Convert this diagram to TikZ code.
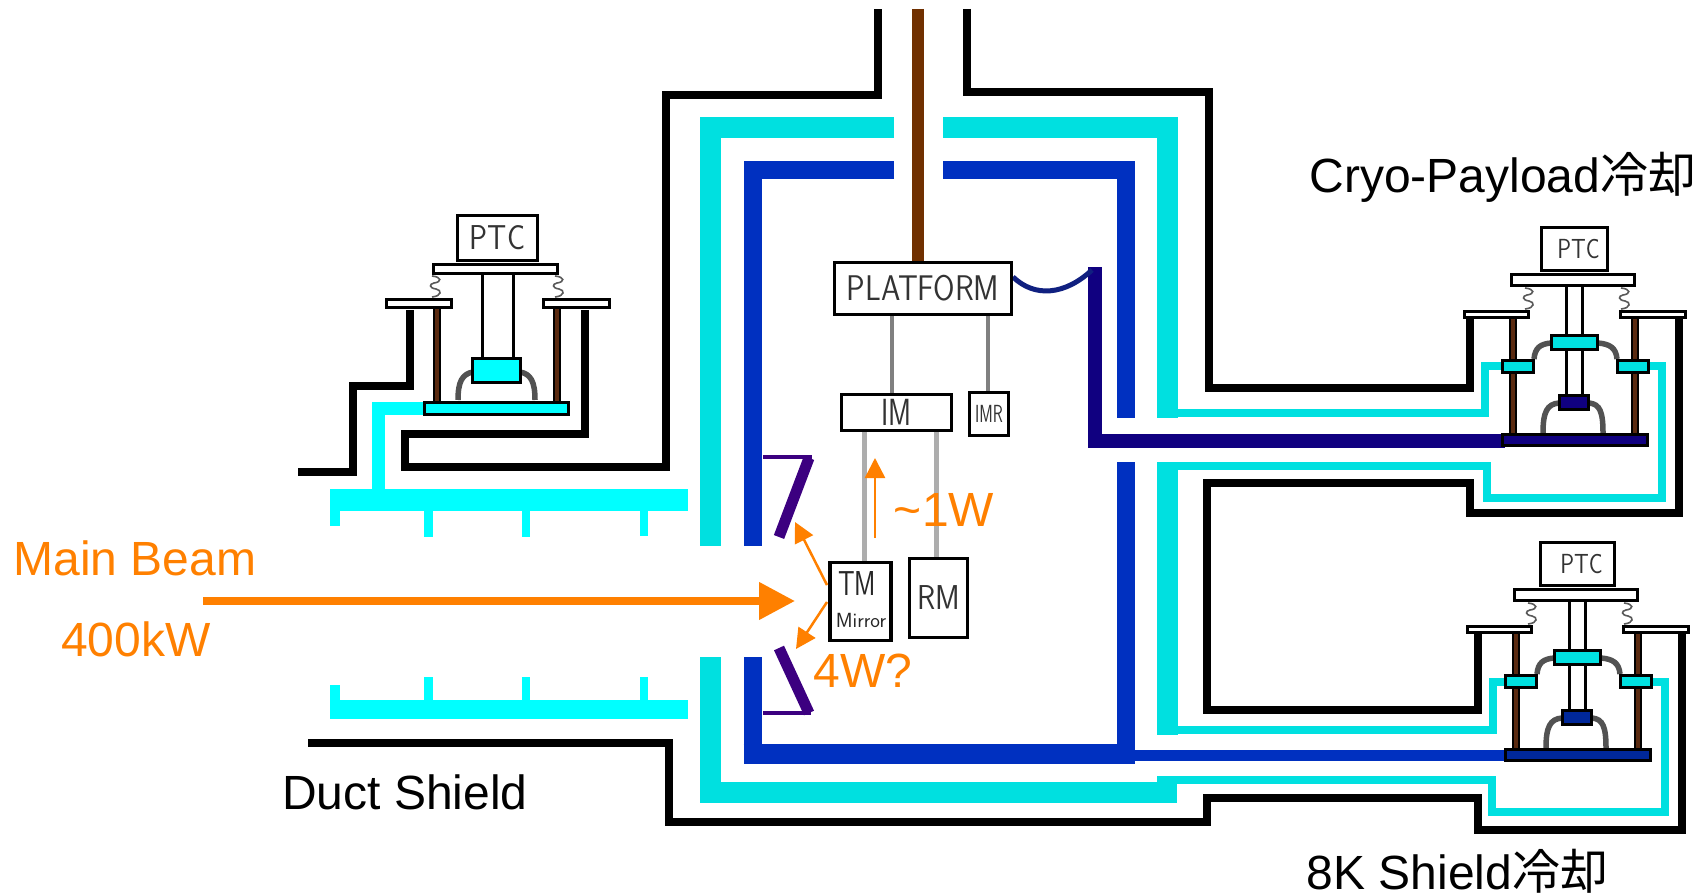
\documentclass[tikz,border=0pt]{standalone}
\usepackage{fontspec}
\setmainfont{Liberation Sans}
\newfontfamily\cjk{Noto Sans CJK JP}
\usetikzlibrary{arrows.meta, positioning}
\definecolor{beamcyan}{HTML}{00FFFF}
\definecolor{shieldteal}{HTML}{00E0E0}
\definecolor{shieldblue}{HTML}{0030C0}
\definecolor{barblue}{HTML}{00289A}
\definecolor{darkblue}{HTML}{100080}
\definecolor{curveblue}{HTML}{102080}
\definecolor{baffle}{HTML}{3C0080}
\definecolor{rodbrown}{HTML}{5A2A10}
\definecolor{wirebrown}{HTML}{703000}
\definecolor{beamorange}{HTML}{FF8000}
\newcommand{\coilat}[2]{\draw[coil, shift={(#1,#2)}] (-3,0) .. controls (7,1) and (7,6) .. (-1,7) .. controls (-6,8) and (-6,12) .. (1,13) .. controls (7,14) and (7,20) .. (-3,21);}
\newcommand{\tall}[2]{\scalebox{1}[#1]{#2}}
\begin{document}
\begin{tikzpicture}[
    x=1pt, y=-1pt,
    wall/.style={draw=black, line width=8pt},
    thickteal/.style={draw=shieldteal, line width=21pt},
    thinteal/.style={draw=shieldteal, line width=7.5pt},
    thickblue/.style={draw=shieldblue, line width=18pt},
    duct/.style={fill=beamcyan},
    block/.style={draw=black, line width=3pt},
    plate/.style={draw=black, line width=3.5pt, fill=white},
    rod/.style={draw=black, line width=2pt, double=rodbrown, double distance=4pt},
    flex/.style={draw=black!68, line width=5.5pt},
    coil/.style={draw=black!65, line width=1.6pt},
    box/.style={draw=black, line width=3.5pt, fill=white, inner sep=0pt, font=\sffamily\fontsize{30}{32}\selectfont, text=black!80},
    tag/.style={inner sep=0pt, font=\sffamily, text=black!85},
    hanger/.style={draw=black!50, line width=4.5pt},
    wire/.style={draw=black!32, line width=5pt},
    txt/.style={inner sep=0pt, anchor=base, font=\fontsize{48}{50}\selectfont},
    otxt/.style={txt, text=beamorange},
    ray/.style={-{Triangle[length=20pt,width=20pt]}, draw=beamorange, fill=beamorange, line width=2.5pt},
]
\useasboundingbox (0,0) rectangle (1700,896);

\draw[wall] (298,472) -- (353,472) -- (353,386) -- (410,386) -- (410,310);
\draw[wall] (585,310) -- (585,434) -- (405,434) -- (405,467) -- (666,467) -- (666,95) -- (878,95) -- (878,9);
\draw[wall] (967,9) -- (967,92) -- (1209,92) -- (1209,388) -- (1470,388) -- (1470,318);
\draw[wall] (1679,318) -- (1679,513) -- (1470,513) -- (1470,483) -- (1207,483) -- (1207,710) -- (1478,710) -- (1478,633);
\draw[wall] (1682,633) -- (1682,830) -- (1478,830) -- (1478,798) -- (1207,798) -- (1207,822) -- (669,822) -- (669,743) -- (308,743);

\draw[thickteal] (894,128) -- (710.5,128) -- (710.5,546);
\draw[thickteal] (710.5,657) -- (710.5,792.5) -- (1177,792.5);
\draw[thickteal] (943,128) -- (1167,128) -- (1167,418);
\draw[thickteal] (1167,462) -- (1167,735);
\draw[thinteal] (1167,413) -- (1485,413) -- (1485,366) -- (1505,366);
\draw[thinteal] (1167,466) -- (1487,466) -- (1487,498) -- (1662,498) -- (1662,366) -- (1645,366);
\draw[thinteal] (1167,730) -- (1493,730) -- (1493,682) -- (1510,682);
\draw[thinteal] (1157,780) -- (1492,780) -- (1492,812) -- (1665,812) -- (1665,682) -- (1650,682);

\draw[thickblue] (894,170.5) -- (752.5,170.5) -- (752.5,546);
\draw[thickblue] (752.5,657) -- (752.5,764);
\draw[thickblue, line width=20pt] (743.5,754) -- (1135,754);
\draw[thickblue] (943,170.5) -- (1126,170.5) -- (1126,418);
\draw[thickblue] (1126,462) -- (1126,764);
\draw[draw=shieldblue, line width=11pt] (1135,755.5) -- (1510,755.5);
\draw[draw=darkblue, line width=14pt] (1094.5,267) -- (1094.5,441) -- (1505,441);
\draw[draw=curveblue, line width=5pt] (1013,277) .. controls (1035,298) and (1065,295) .. (1092,270);

\fill[duct] (330,489) rectangle (688,511);
\fill[duct] (330,511) rectangle (340,526);
\fill[duct] (424,511) rectangle (433,537);
\fill[duct] (522,511) rectangle (530,537);
\fill[duct] (640,511) rectangle (648,536);
\fill[duct] (330,700) rectangle (688,719);
\fill[duct] (330,685) rectangle (340,700);
\fill[duct] (424,677) rectangle (433,700);
\fill[duct] (522,677) rectangle (530,700);
\fill[duct] (640,677) rectangle (648,700);
\draw[draw=beamcyan, line width=13pt] (378,490) -- (378,408.5) -- (425,408.5);

\draw[rod] (437,309) -- (437,401);
\draw[rod] (557,309) -- (557,401);
\draw[flex] (458,400) .. controls (458,382) and (462,374) .. (473,372);
\draw[flex] (535,400) .. controls (535,382) and (531,374) .. (520,372);
\draw[draw=black, line width=3pt] (482,275) -- (482,358);
\draw[draw=black, line width=3pt] (513,275) -- (513,358);
\draw[block, fill=beamcyan] (472.5,358.5) rectangle (520.5,382.5);
\draw[block, fill=beamcyan] (424.5,402.5) rectangle (568.5,414.5);
\coilat{435}{276}
\coilat{558}{276}
\draw[plate] (386.5,299.5) rectangle (451.5,307.5);
\draw[plate] (543.5,299.5) rectangle (609.5,307.5);
\draw[plate] (433.5,264.5) rectangle (557.5,273.5);
\node[box, minimum width=80pt, minimum height=45pt] (ptcleft) at (497.5,238) {\tall{1.15}{PTC}};

\foreach \ox/\oy/\unit/\barcol/\boxw in {0/0/top/darkblue/66, 3/315/low/barblue/74} {
\begin{scope}[shift={(\ox,\oy)}]
\draw[rod] (1513,319) -- (1513,433);
\draw[rod] (1635,319) -- (1635,433);
\draw[flex] (1543,433) .. controls (1543,412) and (1547,404) .. (1559,403);
\draw[flex] (1603,433) .. controls (1603,412) and (1600,404) .. (1589,403);
\draw[flex] (1534,359) .. controls (1535,348) and (1540,344) .. (1551,343);
\draw[flex] (1617,359) .. controls (1616,348) and (1610,344) .. (1598,343);
\draw[draw=black, line width=3pt] (1566,287) -- (1566,394);
\draw[draw=black, line width=3pt] (1582,287) -- (1582,394);
\draw[block, fill=shieldteal] (1551.5,335.5) rectangle (1597.5,349.5);
\draw[block, fill=shieldteal] (1502.5,360.5) rectangle (1533.5,372.5);
\draw[block, fill=shieldteal] (1617.5,360.5) rectangle (1648.5,372.5);
\draw[block, fill=\barcol] (1559.5,395.5) rectangle (1588.5,409.5);
\draw[block, fill=\barcol] (1502.5,434.5) rectangle (1647.5,445.5);
\coilat{1528}{288}
\coilat{1624}{288}
\draw[plate] (1464.5,311.5) rectangle (1528.5,317.5);
\draw[plate] (1620.5,311.5) rectangle (1685.5,317.5);
\draw[plate] (1511.5,274.5) rectangle (1634.5,285.5);
\node[box, minimum width=\boxw pt, minimum height=43pt, font=\sffamily\fontsize{23}{24}\selectfont] (ptc\unit) at (1574.5,249) {\hspace{8pt}\tall{1.2}{PTC}};
\end{scope}
}

\draw[draw=wirebrown, line width=12pt] (918,9) -- (918,262);

\node[box, minimum width=177pt, minimum height=52pt, font=\sffamily\fontsize{31}{33}\selectfont] (platform) at (923,288.5) {\tall{1.15}{PLATFORM}};
\node[box, minimum width=110pt, minimum height=36pt, font=\sffamily\fontsize{28}{30}\selectfont] (im) at (896.5,412.5) {\tall{1.35}{IM}};
\node[box, minimum width=39pt, minimum height=43pt, font=\sffamily\fontsize{16.5}{18}\selectfont] (imr) at (989,414) {\tall{1.5}{IMR}};
\node[box, minimum width=61pt, minimum height=78pt] (tm) at (860.5,601.5) {};
\node[tag, font=\sffamily\fontsize{26}{28}\selectfont] (tmname) at (857,583) {\tall{1.33}{TM}};
\node[tag, font=\sffamily\fontsize{20.5}{22}\selectfont] (mirrorname) at (861,620) {Mirror};
\node[box, minimum width=58pt, minimum height=79pt] (rm) at (938.5,598) {\tall{1.15}{RM}};

\coordinate (imhang) at (892,300);
\coordinate (imrhang) at (988,300);
\coordinate (tmhang) at (864,500);
\coordinate (rmhang) at (936,500);
\draw[hanger] (platform.south -| imhang) -- (im.north -| imhang);
\draw[hanger] (platform.south -| imrhang) -- (imr.north -| imrhang);
\draw[wire] (im.south -| tmhang) -- (tm.north -| tmhang);
\draw[wire] (im.south -| rmhang) -- (rm.north -| rmhang);

\draw[draw=baffle, line width=3.5pt] (763,457) -- (812,457);
\draw[draw=baffle, line width=11pt] (809,458) -- (779,537);
\draw[draw=baffle, line width=3.5pt] (763,713) -- (811,713);
\draw[draw=baffle, line width=11pt] (779,648) -- (809,713);

\coordinate (beamstart) at (203,601);
\coordinate (beamtip) at (795,601);
\coordinate (upstart) at (875,538);
\coordinate (uptip) at (875,458);
\coordinate (bounceup) at (795,522);
\coordinate (bouncedown) at (796,649);
\coordinate (tmupper) at (827,585);
\coordinate (tmlower) at (827,602);
\draw[-{Triangle[length=36pt,width=36pt]}, draw=beamorange, fill=beamorange, line width=7.5pt] (beamstart) -- (beamtip);
\draw[ray] (upstart) -- (uptip);
\draw[ray] (tmupper) -- (bounceup);
\draw[ray] (tmlower) -- (bouncedown);

\node[otxt] (mainbeam) at (135,575) {Main Beam};
\node[otxt] (beampower) at (136,656) {400kW};
\node[otxt] (imload) at (944,526) {\textasciitilde 1W};
\node[otxt] (tmload) at (863,687) {4W?};
\node[txt] (ductshield) at (405,809) {Duct Shield};
\node[txt] (payloadcool) at (1503,193) {Cryo-Payload{\cjk 冷却}};
\node[txt] (shieldcool) at (1457.5,889) {8K Shield{\cjk 冷却}};
\end{tikzpicture}
\end{document}
